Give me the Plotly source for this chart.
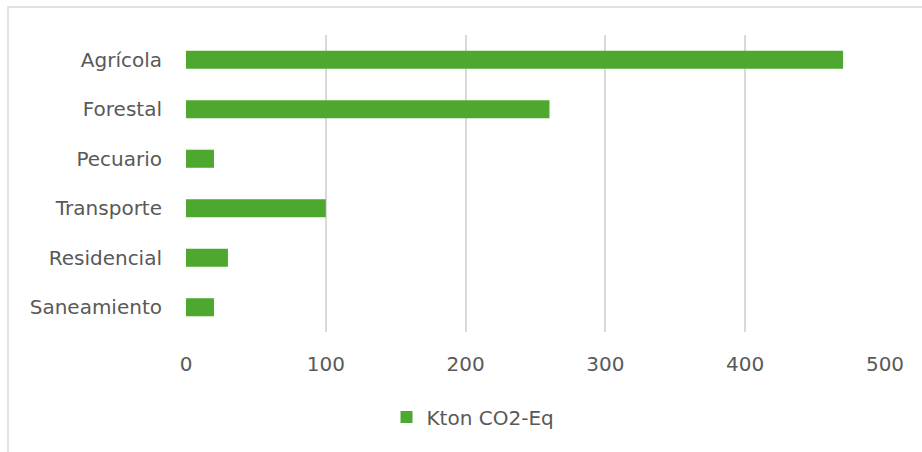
import plotly.graph_objects as go

categories = ["Agrícola", "Forestal", "Pecuario", "Transporte", "Residencial", "Saneamiento"]
values = [470, 260, 20, 100, 30, 20]
series_name = "Kton CO2-Eq"
tick_vals = [0, 100, 200, 300, 400, 500]

W, H = 922, 452
ml, mr, mt, mb = 186, 37, 35, 120
pw, ph = W - ml - mr, H - mt - mb

fig = go.Figure()
fig.add_trace(go.Bar(
    y=categories[::-1], x=values[::-1], orientation="h",
    name=series_name, marker=dict(color="#4EA72E", line=dict(width=0)),
    showlegend=True,
))

font_fam = "DejaVu Sans, sans-serif"
fig.update_layout(
    width=W, height=H,
    margin=dict(l=ml, r=mr, t=mt, b=mb, pad=0),
    paper_bgcolor="white", plot_bgcolor="white",
    bargap=0.635,
    font=dict(family=font_fam, size=20, color="#595959"),
    xaxis=dict(range=[0, 500], tickvals=tick_vals, showgrid=True,
               gridcolor="#d9d9d9", gridwidth=1.5, zeroline=False,
               showline=False, ticks="", ticklabelstandoff=18,
               tickfont=dict(size=20, color="#595959")),
    yaxis=dict(showgrid=False, zeroline=False, showline=False, ticks="",
               ticklabelstandoff=23,
               tickfont=dict(size=20, color="#595959")),
    legend=dict(orientation="h", x=(473 - ml) / pw, xanchor="center",
                y=(H - mb - 417) / ph, yanchor="middle",
                font=dict(size=20, color="#595959"),
                itemwidth=30, traceorder="normal"),
)

# chart frame (partially cropped at right/bottom)
fig.add_shape(type="rect", xref="paper", yref="paper",
              x0=(8 - ml) / pw, x1=2.0,
              y0=-2.0, y1=(H - mb - 7) / ph,
              line=dict(color="#d9d9d9", width=1.5), fillcolor="rgba(0,0,0,0)",
              layer="below")

fig.write_html("out.html")
